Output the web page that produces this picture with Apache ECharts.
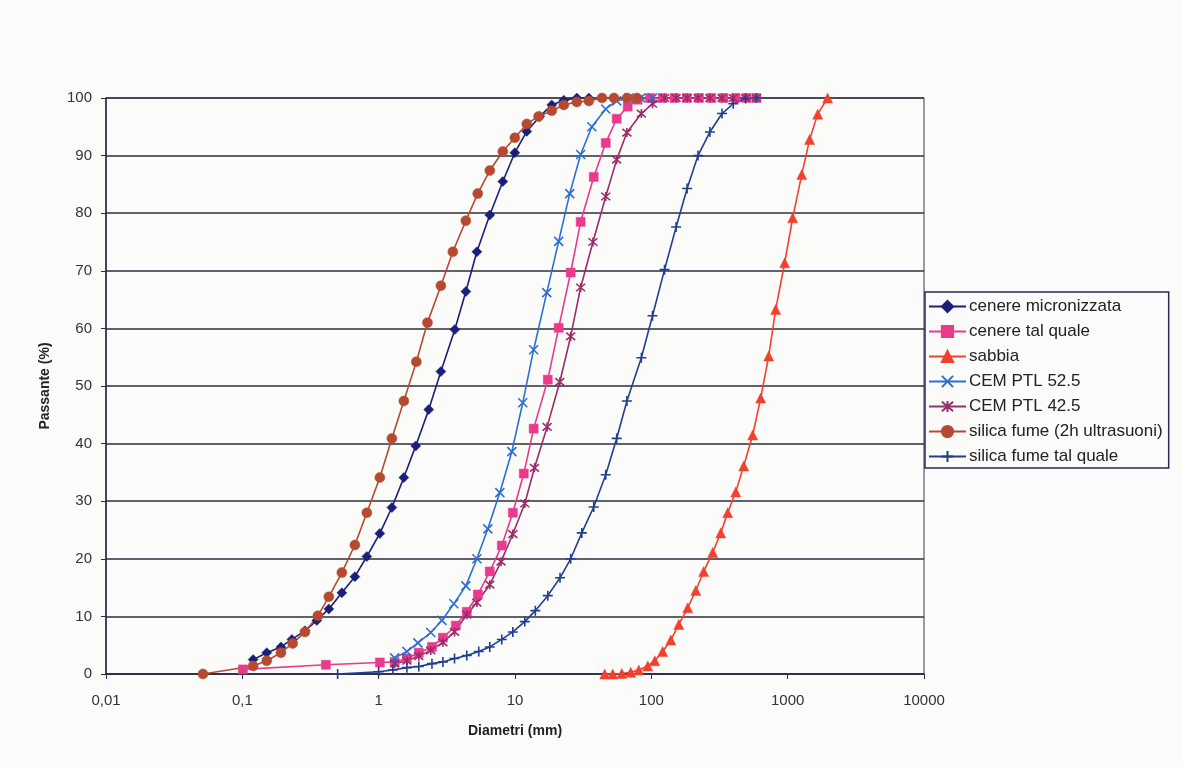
<!DOCTYPE html>
<html><head><meta charset="utf-8">
<script src="https://cdn.jsdelivr.net/npm/echarts@6/dist/echarts.min.js"></script>
<style>html,body{margin:0;padding:0;background:#fbfbfa;}#c{width:1183px;height:767px;}</style>
</head><body><div id="c"></div>
<script>
const xTickLabels = ['0,01','0,1','1','10','100','1000','10000'];

const cenereMicroX = [0.12,0.151,0.192,0.231,0.288,0.352,0.431,0.537,0.669,0.819,1.02,1.25,1.53,1.87,2.33,2.86,3.62,4.36,5.25,6.53,8.14,9.97,12.2,15.2,18.6,22.8,28.4,34.8];
const cenereMicroY = [2.5,3.7,4.7,6.0,7.5,9.3,11.3,14.1,16.9,20.4,24.4,28.9,34.1,39.6,45.9,52.5,59.8,66.4,73.3,79.7,85.5,90.5,94.2,96.8,98.8,99.6,100,100];

const cenereTalX = [0.101,0.41,1.02,1.31,1.61,1.97,2.46,2.96,3.68,4.43,5.34,6.53,8.0,9.64,11.6,13.7,17.4,20.9,25.6,30.3,37.8,46.3,55.7,67.1,79.4,98,121,148,182,224,275,338,415,500,590];
const cenereTalY = [0.8,1.6,2.0,2.1,2.7,3.7,4.7,6.3,8.4,10.8,13.8,17.8,22.3,28.0,34.8,42.6,51.1,60.1,69.7,78.5,86.3,92.2,96.4,98.5,99.7,100,100,100,100,100,100,100,100,100,100];

const sabbiaX = [45.5,52.1,60.7,70.6,80.9,94.1,106,121,139,159,185,212,242,282,323,363,416,476,554,634,726,817,951,1089,1268,1449,1660,1963];
const sabbiaY = [0,0,0.1,0.3,0.7,1.4,2.3,3.9,5.9,8.6,11.5,14.5,17.8,21.1,24.5,28.0,31.6,36.1,41.5,47.9,55.2,63.3,71.4,79.2,86.7,92.8,97.2,100];

const cem525X = [1.31,1.61,1.94,2.41,2.91,3.56,4.36,5.25,6.32,7.74,9.48,11.4,13.7,17.1,20.9,25.2,30.3,36.6,46.3,55.7,68.2,83.6,102];
const cem525Y = [2.8,3.9,5.4,7.2,9.3,12.2,15.3,20.0,25.2,31.5,38.6,47.1,56.3,66.2,75.1,83.4,90.2,95.0,98.1,99.5,100,100,100];

const cem425X = [1.31,1.61,1.97,2.41,2.96,3.6,4.43,5.25,6.53,7.9,9.64,11.8,13.9,17.2,21.3,25.6,30.3,37.3,46.3,55.7,66.2,84.5,102,125,152,183,220,269,330,399,491,590];
const cem425Y = [1.8,2.3,3.1,4.1,5.5,7.3,10.3,12.4,15.5,19.5,24.3,29.6,35.8,42.9,50.7,58.6,67.1,75.0,82.9,89.3,94.0,97.3,99.0,100,100,100,100,100,100,100,100,100];

const silicaUltraX = [0.0514,0.12,0.151,0.192,0.234,0.288,0.358,0.431,0.537,0.669,0.819,1.02,1.25,1.53,1.89,2.28,2.86,3.5,4.36,5.33,6.53,8.14,9.97,12.2,14.9,18.6,22.8,28.4,34.8,43.5,53.2,66.4,78.3];
const silicaUltraY = [0,1.4,2.3,3.7,5.3,7.3,10.1,13.4,17.6,22.4,28.0,34.1,40.9,47.4,54.2,61.0,67.4,73.3,78.7,83.4,87.4,90.7,93.1,95.5,96.8,97.8,98.8,99.3,99.5,100,100,100,100];

const silicaTalX = [0.50,1.0,1.27,1.61,1.97,2.46,2.96,3.6,4.43,5.42,6.53,8.0,9.64,11.8,14.1,17.4,21.4,25.6,30.9,37.8,46.3,55.7,66.2,84.5,102,125,152,183,220,269,330,399,491,590];
const silicaTalY = [0,0.4,0.7,1.1,1.3,1.8,2.1,2.7,3.2,3.9,4.7,6.0,7.3,9.1,11.0,13.6,16.7,20.0,24.5,29.0,34.6,40.9,47.4,54.9,62.2,70.2,77.6,84.3,90.0,94.1,97.3,99.0,99.9,100];

function pairs(xs, ys){ return xs.map((x,i)=>[x, ys[i]]); }

const X_PATH = 'path://M0,0L10,10M10,0L0,10';
const STAR_PATH = 'path://M0,0L10,10M10,0L0,10M5,-1L5,11';
const PLUS_PATH = 'path://M0,5L10,5M5,1L5,9';

function mk(name, xs, ys, color, symbol, size, bw){
  return {
    name, type:'line', data: pairs(xs, ys), symbol, symbolSize: size,
    lineStyle:{color, width:1.6},
    itemStyle:{color, borderColor: color, borderWidth: bw},
    emphasis:{disabled:true}, animation:false
  };
}

const series = [
  mk('cenere micronizzata', cenereMicroX, cenereMicroY, '#1c1f78', 'diamond', 10, 0.5),
  mk('cenere tal quale', cenereTalX, cenereTalY, '#ea3a8c', 'rect', 9, 0.5),
  mk('sabbia', sabbiaX, sabbiaY, '#f2402f', 'triangle', 10, 0.5),
  mk('CEM PTL 52.5', cem525X, cem525Y, '#2b6fd4', X_PATH, 9, 1.6),
  mk('CEM PTL 42.5', cem425X, cem425Y, '#9a2c6a', STAR_PATH, 9, 1.6),
  mk('silica fume (2h ultrasuoni)', silicaUltraX, silicaUltraY, '#b54a30', 'circle', 10, 0.5),
  mk('silica fume tal quale', silicaTalX, silicaTalY, '#213f8f', PLUS_PATH, 10, 1.6)
];

const chart = echarts.init(document.getElementById('c'));
chart.setOption({
  backgroundColor:'#fbfbfa',
  animation:false,
  textStyle:{fontFamily:'Liberation Sans, Arial, sans-serif'},
  grid:{left:106, right:259, top:98, bottom:93, show:true, borderColor:'#3a3a55', borderWidth:1, backgroundColor:'transparent'},
  legend:{
    orient:'vertical', left:925, top:292, padding:[6,6,3,3],
    itemWidth:37, itemHeight:14, itemGap:8,
    borderColor:'#2a2a55', borderWidth:1.5, backgroundColor:'#fbfbfa',
    textStyle:{fontSize:17, color:'#222', fontFamily:'Liberation Sans, Arial, sans-serif', padding:[0,0,0,-2]},
    data: series.map(s=>s.name)
  },
  xAxis:{
    type:'log', logBase:10, min:0.01, max:10000,
    name:'Diametri (mm)', nameLocation:'middle', nameGap:50,
    nameTextStyle:{fontSize:14, fontWeight:'bold', color:'#222'},
    axisLine:{show:true, lineStyle:{color:'#2a2a45', width:1.5}},
    axisTick:{show:true, length:5, inside:false, lineStyle:{color:'#2a2a45'}},
    minorTick:{show:false},
    splitLine:{show:false},
    axisLabel:{fontSize:15, color:'#333', margin:19,
      formatter:function(v){ const idx = Math.round(Math.log10(v))+2; return xTickLabels[idx] !== undefined ? xTickLabels[idx] : ''; }}
  },
  yAxis:{
    type:'value', min:0, max:100, interval:10,
    name:'Passante (%)', nameLocation:'middle', nameGap:54, nameRotate:90,
    nameTextStyle:{fontSize:14, fontWeight:'bold', color:'#222'},
    axisLine:{show:true, lineStyle:{color:'#2a2a45', width:1.5}},
    axisTick:{show:true, length:5, lineStyle:{color:'#2a2a45'}},
    splitLine:{show:true, lineStyle:{color:'#2e2e3e', width:1.6}},
    axisLabel:{fontSize:15, color:'#333', margin:14}
  },
  series
});
</script></body></html>
